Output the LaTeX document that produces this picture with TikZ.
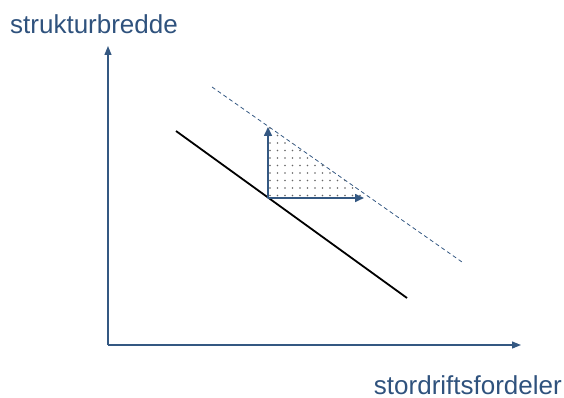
\documentclass[tikz,border=0pt]{standalone}
\usepackage{fontspec}
\setmainfont{Liberation Sans}
\usepackage{tikz}
\usetikzlibrary{positioning, arrows.meta, patterns.meta}
\definecolor{sdaxis}{RGB}{52, 88, 130}
\definecolor{sdlabel}{RGB}{47, 82, 125}

\begin{document}
\begin{tikzpicture}[x=1pt, y=-1pt,
  every node/.style={font=\fontsize{26}{30}\selectfont, text=sdlabel, inner sep=0pt},
  axis/.style={sdaxis, line width=1.2pt, -{Triangle[length=9pt, width=7pt]}},
  gainarrow/.style={sdaxis, line width=1.6pt, -{Triangle[length=9pt, width=8pt]}}]
  \useasboundingbox (0,0) rectangle (564,398);
  % axes
  \coordinate (o) at (108,345);
  \coordinate (ytop) at (108,46);
  \coordinate (xend) at (521,345);
  \draw[axis] (o) -- (ytop);
  \draw[axis] (o) -- (xend);
  \node[anchor=base west] (ylab) at (10,34) {strukturbredde};
  \node[anchor=base east] (xlab) at (562,394) {stordriftsfordeler};
  % curves
  \coordinate (s1) at (176,131);
  \coordinate (s2) at (407,298);
  \coordinate (d1) at (212,87);
  \coordinate (d2) at (462,262);
  \draw[black, line width=1.8pt] (s1) -- (s2);
  \draw[sdaxis, line width=0.8pt, dash pattern=on 4pt off 3pt] (d1) -- (d2);
  % dotted gain
  \coordinate (p) at (268,198);
  \coordinate (q) at (268,126);
  \coordinate (r) at (370,198);
  \fill[pattern={Dots[distance=7.5pt, radius=0.9pt]}, pattern color=black!60] (p) -- (q) -- (r) -- cycle;
  \coordinate (vtop) at (268,127);
  \coordinate (hend) at (364,198);
  \draw[gainarrow] (p) -- (vtop);
  \draw[gainarrow] (p) -- (hend);
\end{tikzpicture}
\end{document}
